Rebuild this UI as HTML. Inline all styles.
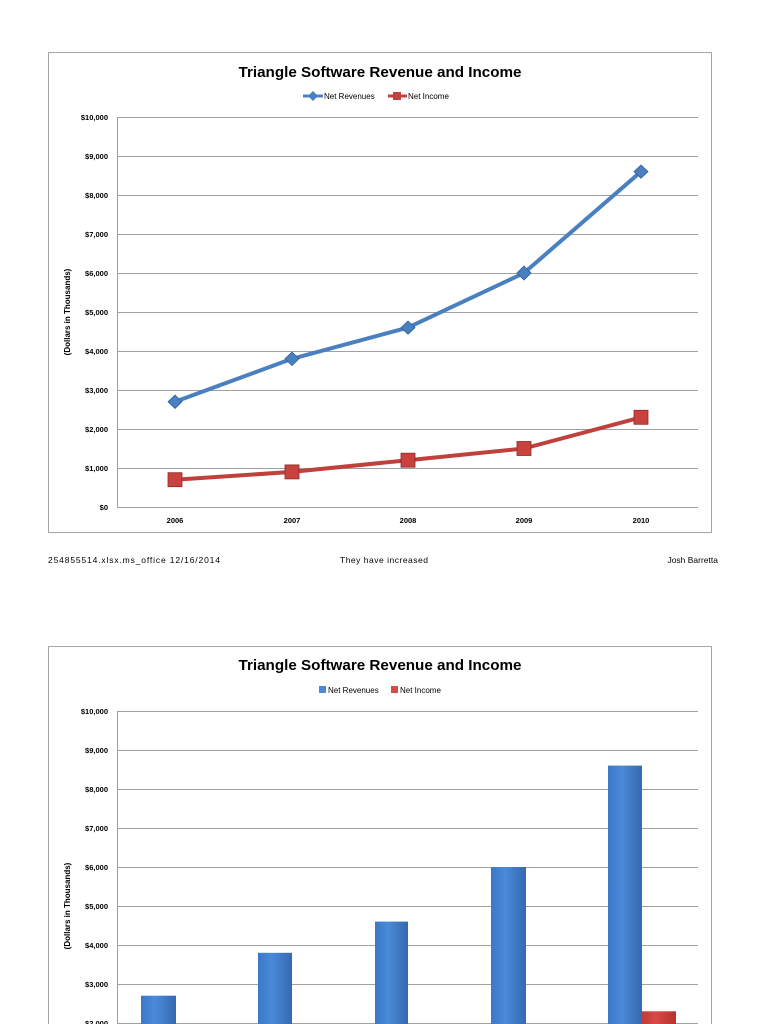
<!DOCTYPE html>
<html><head><meta charset="utf-8"><style>
html,body{margin:0;padding:0;background:#fff;width:768px;height:1024px;overflow:hidden}
svg text{font-family:"Liberation Sans",sans-serif}
</style></head><body>
<svg width="768" height="1024" viewBox="0 0 768 1024" xmlns="http://www.w3.org/2000/svg">
<defs>
<linearGradient id="bb" x1="0" x2="1" y1="0" y2="0"><stop offset="0" stop-color="#3a78c9"/><stop offset="0.4" stop-color="#4a8ad8"/><stop offset="1" stop-color="#3569b0"/></linearGradient>
<linearGradient id="rb" x1="0" x2="1" y1="0" y2="0"><stop offset="0" stop-color="#c43a36"/><stop offset="0.4" stop-color="#d84a44"/><stop offset="1" stop-color="#b8312e"/></linearGradient>
</defs>
<!-- Chart 1 -->
<rect x="48.5" y="52.5" width="663" height="480" fill="#fff" stroke="#a6a6a6"/>
<text x="380" y="77" font-size="15" font-weight="bold" text-anchor="middle" fill="#000" textLength="283" lengthAdjust="spacingAndGlyphs">Triangle Software Revenue and Income</text>
<line x1="303" y1="96" x2="323" y2="96" stroke="#4a7fc0" stroke-width="3"/>
<path d="M313 91 L318 96 L313 101 L308 96Z" fill="#4a7fc0"/>
<text x="324" y="99" font-size="8" fill="#000">Net Revenues</text>
<line x1="388" y1="96" x2="407" y2="96" stroke="#c0403c" stroke-width="3"/>
<rect x="393" y="92" width="8" height="8" fill="#c0403c"/>
<text x="408" y="99" font-size="8" fill="#000">Net Income</text>
<g stroke="#a0a0a0" stroke-width="1">
<line x1="117" y1="117.5" x2="698" y2="117.5"/><line x1="117" y1="156.5" x2="698" y2="156.5"/><line x1="117" y1="195.5" x2="698" y2="195.5"/><line x1="117" y1="234.5" x2="698" y2="234.5"/><line x1="117" y1="273.5" x2="698" y2="273.5"/><line x1="117" y1="312.5" x2="698" y2="312.5"/><line x1="117" y1="351.5" x2="698" y2="351.5"/><line x1="117" y1="390.5" x2="698" y2="390.5"/><line x1="117" y1="429.5" x2="698" y2="429.5"/><line x1="117" y1="468.5" x2="698" y2="468.5"/><line x1="117" y1="507.5" x2="698" y2="507.5"/>
<line x1="117.5" y1="117" x2="117.5" y2="507"/>
</g>
<g font-size="7.5" font-weight="bold" text-anchor="end" fill="#000">
<text x="108" y="120">$10,000</text><text x="108" y="159">$9,000</text><text x="108" y="198">$8,000</text><text x="108" y="237">$7,000</text><text x="108" y="276">$6,000</text><text x="108" y="315">$5,000</text><text x="108" y="354">$4,000</text><text x="108" y="393">$3,000</text><text x="108" y="432">$2,000</text><text x="108" y="471">$1,000</text><text x="108" y="510">$0</text>
</g>
<text transform="translate(70,312) rotate(-90)" font-size="8" font-weight="bold" text-anchor="middle">(Dollars in Thousands)</text>
<g font-size="7.5" font-weight="bold" text-anchor="middle">
<text x="175" y="523">2006</text><text x="292" y="523">2007</text><text x="408" y="523">2008</text><text x="524" y="523">2009</text><text x="641" y="523">2010</text>
</g>
<polyline points="175,401.7 292,358.8 408,327.6 524,273 641,171.6" fill="none" stroke="#4a7fc0" stroke-width="4" stroke-linejoin="round"/>
<g fill="#4a7fc0" stroke="#2f5f9a" stroke-width="0.8">
<path d="M175 395 L182 401.7 L175 408.4 L168 401.7Z"/><path d="M292 352 L299 358.8 L292 365.6 L285 358.8Z"/><path d="M408 321 L415 327.6 L408 334.2 L401 327.6Z"/><path d="M524 266 L531 273 L524 280 L517 273Z"/><path d="M641 165 L648 171.6 L641 178.2 L634 171.6Z"/>
</g>
<polyline points="175,479.7 292,471.9 408,460.2 524,448.5 641,417.3" fill="none" stroke="#c0403c" stroke-width="4" stroke-linejoin="round"/>
<g fill="#c8423e" stroke="#8f2a27" stroke-width="0.8">
<rect x="168" y="472.7" width="14" height="14"/><rect x="285" y="464.9" width="14" height="14"/><rect x="401" y="453.2" width="14" height="14"/><rect x="517" y="441.5" width="14" height="14"/><rect x="634" y="410.3" width="14" height="14"/>
</g>
<!-- footer -->
<g font-size="8.5" fill="#000">
<text x="48" y="563" textLength="172" lengthAdjust="spacing">254855514.xlsx.ms_office  12/16/2014</text>
<text x="340" y="563" textLength="88" lengthAdjust="spacing">They have increased</text>
<text x="718" y="563" text-anchor="end">Josh Barretta</text>
</g>
<!-- Chart 2 -->
<rect x="48.5" y="646.5" width="663" height="400" fill="#fff" stroke="#a6a6a6"/>
<text x="380" y="670" font-size="15" font-weight="bold" text-anchor="middle" fill="#000" textLength="283" lengthAdjust="spacingAndGlyphs">Triangle Software Revenue and Income</text>
<rect x="319" y="686" width="7" height="7" fill="#4a8ad8"/>
<text x="328" y="693" font-size="8" fill="#000">Net Revenues</text>
<rect x="391" y="686" width="7" height="7" fill="#d84a44"/>
<text x="400" y="693" font-size="8" fill="#000">Net Income</text>
<g stroke="#a0a0a0" stroke-width="1">
<line x1="117" y1="711.5" x2="698" y2="711.5"/><line x1="117" y1="750.5" x2="698" y2="750.5"/><line x1="117" y1="789.5" x2="698" y2="789.5"/><line x1="117" y1="828.5" x2="698" y2="828.5"/><line x1="117" y1="867.5" x2="698" y2="867.5"/><line x1="117" y1="906.5" x2="698" y2="906.5"/><line x1="117" y1="945.5" x2="698" y2="945.5"/><line x1="117" y1="984.5" x2="698" y2="984.5"/><line x1="117" y1="1023.5" x2="698" y2="1023.5"/>
<line x1="117.5" y1="711" x2="117.5" y2="1024"/>
</g>
<g font-size="7.5" font-weight="bold" text-anchor="end" fill="#000">
<text x="108" y="714">$10,000</text><text x="108" y="753">$9,000</text><text x="108" y="792">$8,000</text><text x="108" y="831">$7,000</text><text x="108" y="870">$6,000</text><text x="108" y="909">$5,000</text><text x="108" y="948">$4,000</text><text x="108" y="987">$3,000</text><text x="108" y="1026">$2,000</text>
</g>
<text transform="translate(70,906) rotate(-90)" font-size="8" font-weight="bold" text-anchor="middle">(Dollars in Thousands)</text>
<g fill="url(#bb)">
<rect x="141" y="995.7" width="35" height="40"/>
<rect x="258" y="952.8" width="34" height="80"/>
<rect x="375" y="921.6" width="33" height="110"/>
<rect x="491" y="867" width="35" height="160"/>
<rect x="608" y="765.6" width="34" height="260"/>
</g>
<rect x="642" y="1011.3" width="34" height="20" fill="url(#rb)"/>
</svg>
</body></html>
